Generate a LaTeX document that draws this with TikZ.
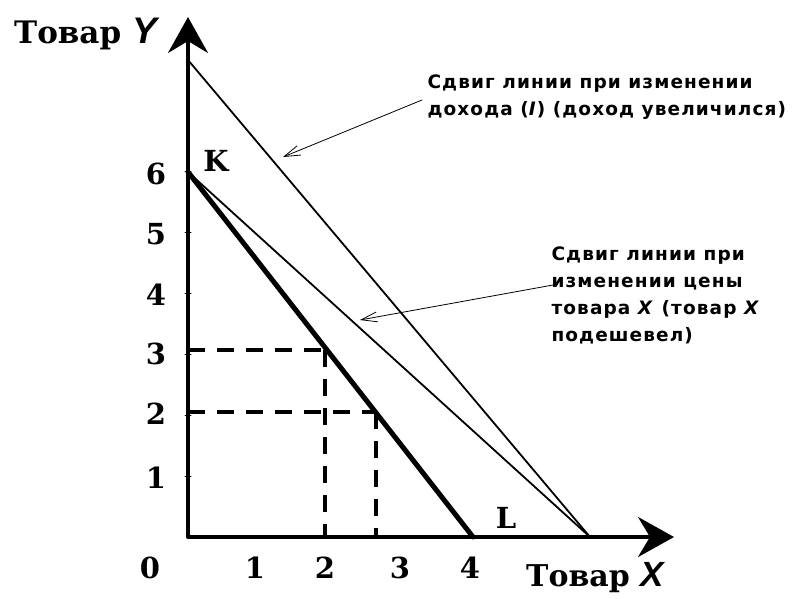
\documentclass[tikz,border=0pt]{standalone}
\usepackage{fontspec}
\setmainfont{DejaVu Serif}
\newfontfamily\notefont[LetterSpace=6]{DejaVu Sans}
\newfontfamily\axisfont{Liberation Sans}
\usetikzlibrary{arrows.meta,positioning}

\begin{document}
\begin{tikzpicture}[x=1pt, y=-1pt, line cap=round, line join=round,
  axis/.style={line width=3.5pt, -{Stealth[length=36pt, width=40pt, inset=12pt]}},
  budget/.style={line width=1.8pt},
  dashline/.style={line width=3.2pt, line cap=butt, dash pattern=on 17pt off 12pt},
  pointer/.style={line width=0.8pt, -{Straight Barb[length=16pt, width=10pt]}},
  ticklbl/.style={font=\fontsize{29}{30}\selectfont\bfseries},
  note/.style={font=\notefont\fontsize{18.5}{27}\selectfont\bfseries, align=left, anchor=north west}]

\useasboundingbox (0,0) rectangle (792,598);

% points
\coordinate (O) at (188,537);
\coordinate (K) at (188,172);
\coordinate (L) at (473,537);
\coordinate (T) at (188,60);
\coordinate (R) at (590,537);

% axes
\draw[axis] (O) -- (188,17);
\draw[axis] (O) -- (674,537);
\foreach \k in {1,...,6} \draw[line width=1pt] (185,537-61*\k) -- (191,537-61*\k);

% dashed guides
\draw[dashline] (188,350) -- (327,350);
\draw[dashline] (325,350) -- (325,537);
\draw[dashline] (188,412) -- (376,412);
\draw[dashline] (376,412) -- (376,537);

% budget lines
\draw[line width=5pt] (K) -- (L);
\draw[budget] (K) -- (R);
\draw[budget] (T) -- (R);

% tick labels
\node[ticklbl] (y6) at (156,174) {6};
\node[ticklbl] (y5) at (156,234) {5};
\node[ticklbl] (y4) at (156,295) {4};
\node[ticklbl] (y3) at (156,354) {3};
\node[ticklbl] (y2) at (156,414) {2};
\node[ticklbl] (y1) at (156,478) {1};
\node[ticklbl] (x0) at (150,568) {0};
\node[ticklbl] (x1) at (255,568) {1};
\node[ticklbl] (x2) at (325,568) {2};
\node[ticklbl] (x3) at (400,568) {3};
\node[ticklbl] (x4) at (470,568) {4};
\node[ticklbl] (kk) at (216,161) {K};
\node[ticklbl] (ll) at (506,518) {L};

% axis labels
\node[font=\fontsize{31}{32}\selectfont\bfseries, anchor=west, inner sep=0pt] (ylbl) at (14,34)
  {Товар {\axisfont\itshape\fontsize{37}{37}\selectfont Y}};
\node[font=\fontsize{30}{31}\selectfont\bfseries, anchor=west, inner sep=0pt] (xlbl) at (526,578)
  {Товар {\axisfont\itshape\fontsize{35}{35}\selectfont X}};

% notes
\node[note] (inc) at (424,71) {Сдвиг линии при изменении\\дохода (\textit{I}) (доход увеличился)};
\node[note] (prc) at (548,243) {Сдвиг линии при\\изменении цены\\товара \textit{X} (товар \textit{X}\\подешевел)};
\coordinate (incend) at (283,157);
\coordinate (prcend) at (360,320);
\draw[pointer] (422,100) -- (incend);
\draw[pointer] (553,285) -- (prcend);

\end{tikzpicture}
\end{document}
